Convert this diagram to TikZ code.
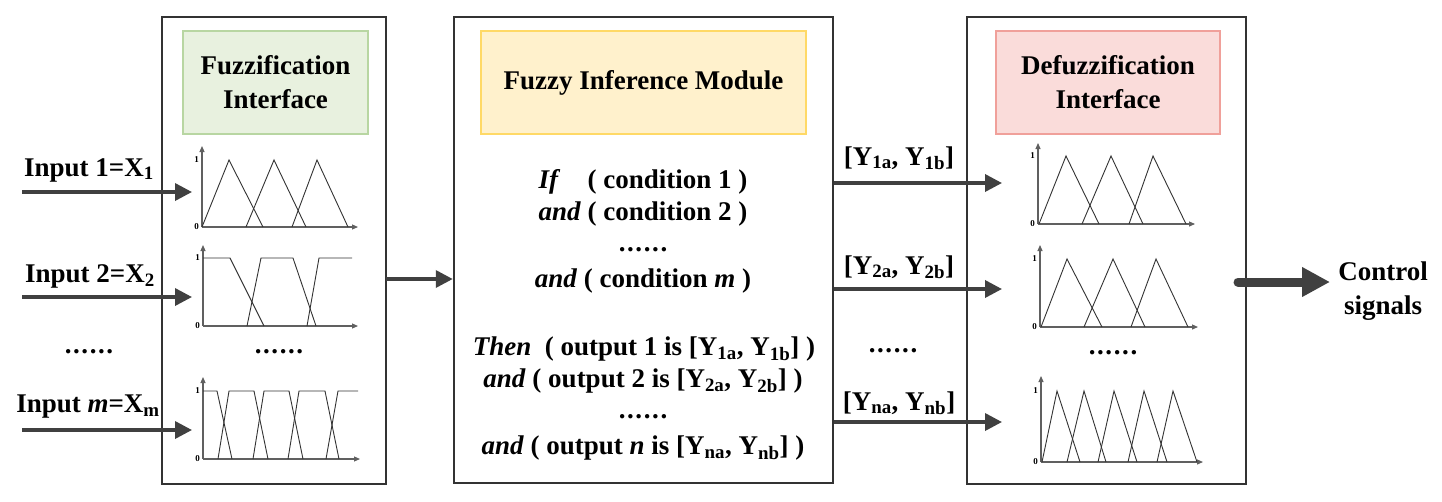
\documentclass[tikz,border=0pt]{standalone}
\usepackage{fontspec}
\setmainfont{Liberation Serif}
\usetikzlibrary{arrows.meta}
\definecolor{boxline}{HTML}{333333}
\definecolor{arrgray}{HTML}{404040}
\definecolor{axgray}{HTML}{606060}
\definecolor{mfline}{HTML}{333333}
\definecolor{gfill}{HTML}{E8F1DF}
\definecolor{gline}{HTML}{B8D6A2}
\definecolor{yfill}{HTML}{FFF1CC}
\definecolor{yline}{HTML}{FFD966}
\definecolor{pfill}{HTML}{FADCDA}
\definecolor{pline}{HTML}{F0A09A}
\newcommand\mfaxes[5]{%
  \draw[axisline] (#1,#2) -- (#1,#3);
  \draw[axisline] (#1,#2) -- (#4,#2);
  \node[ticklab,anchor=east] at (#1-2,#5) {1};
  \node[ticklab,anchor=east] at (#1-2,#2) {0};
}
\newcommand\sixdots{.\kern1.6pt.\kern1.6pt.\kern1.6pt.\kern1.6pt.\kern1.6pt.}
\begin{document}
\begin{tikzpicture}[x=1pt,y=-1pt,
  big/.style={font=\fontsize{27}{34}\selectfont\bfseries, inner sep=0pt, align=center},
  ticklab/.style={font=\fontsize{9}{10}\selectfont\bfseries, inner sep=1pt},
  modbox/.style={draw=boxline, line width=2.5pt, fill=white, inner sep=0pt},
  titlebox/.style={line width=1.6pt, inner sep=0pt},
  axisline/.style={draw=axgray, line width=1.1pt, -{Triangle[length=6pt,width=5pt]}},
  mf/.style={draw=mfline, line width=0.9pt},
  arr/.style={draw=arrgray, line width=3.5pt, -{Triangle[length=17pt,width=17pt]}},
  thickarr/.style={draw=arrgray, line width=9pt, line cap=round, -{Triangle[length=28pt,width=28pt]}}
]
\useasboundingbox (0,0) rectangle (1442,501);

% module boxes
\node[modbox, minimum width=224pt, minimum height=467pt] (left) at (274,250.5) {};
\node[modbox, minimum width=379pt, minimum height=466pt] (mid) at (643.5,250) {};
\node[modbox, minimum width=279pt, minimum height=467pt] (right) at (1106.5,250.5) {};

% title boxes
\node[titlebox, draw=gline, fill=gfill, minimum width=185pt, minimum height=103pt] (gbox) at (275.5,82.5) {};
\node[big] (gtext) at (gbox) {Fuzzification\\Interface};
\node[titlebox, draw=yline, fill=yfill, minimum width=325pt, minimum height=103pt] (ybox) at (643.5,82.5) {};
\node[big] (ytext) at (ybox) {Fuzzy Inference Module};
\node[titlebox, draw=pline, fill=pfill, minimum width=224pt, minimum height=103pt] (pbox) at (1108,82.5) {};
\node[big] (ptext) at (pbox) {Defuzzification\\Interface};

% left charts
\mfaxes{202}{227}{146}{358}{160}
\draw[mf] (202,227) -- (229,160) -- (263,227);
\draw[mf] (246,227) -- (274,160) -- (306,227);
\draw[mf] (292,227) -- (317,160) -- (348,227);

\mfaxes{203}{326}{245}{358}{258}
\draw[mf] (203,258) -- (230,258) -- (264,326);
\draw[mf] (247,326) -- (261,258) -- (293,258) -- (316,326);
\draw[mf] (307,326) -- (319,258) -- (352,258);

\node[big] (ldots) at (279,352) {\sixdots};

\mfaxes{203}{459}{377}{360}{391}
\draw[mf] (203,391) -- (217,391) -- (232,459);
\draw[mf] (218,459) -- (229,391) -- (254,391) -- (268,459);
\draw[mf] (253,459) -- (264,391) -- (289,391) -- (303,459);
\draw[mf] (288,459) -- (299,391) -- (325,391) -- (339,459);
\draw[mf] (326,459) -- (338,391) -- (358,391);

% right charts
\mfaxes{1038}{224}{143}{1195}{156}
\draw[mf] (1039,224) -- (1066,156) -- (1099,224);
\draw[mf] (1082,224) -- (1111,156) -- (1143,224);
\draw[mf] (1129,224) -- (1153,156) -- (1186,224);

\mfaxes{1040}{327}{245}{1198}{259}
\draw[mf] (1041,327) -- (1067,259) -- (1102,327);
\draw[mf] (1084,327) -- (1113,259) -- (1145,327);
\draw[mf] (1131,327) -- (1156,259) -- (1188,327);

\node[big] (rdots) at (1113,353) {\sixdots};

\mfaxes{1041}{462}{376}{1203}{391}
\draw[mf] (1042,462) -- (1057,391) -- (1080,462);
\draw[mf] (1067,462) -- (1084,391) -- (1106,462);
\draw[mf] (1098,462) -- (1114,391) -- (1137,462);
\draw[mf] (1128,462) -- (1144,391) -- (1167,462);
\draw[mf] (1157,462) -- (1173,391) -- (1197,462);

% inputs
\node[big] (in1) at (89,170) {Input 1=X\textsubscript{1}};
\node[big] (in2) at (90,276) {Input 2=X\textsubscript{2}};
\node[big] (indots) at (89,352) {\sixdots};
\node[big] (inm) at (88,407) {Input \textit{m}=X\textsubscript{m}};
\coordinate (a1s) at (22,192); \coordinate (a1e) at (192,192);
\coordinate (a2s) at (22,297); \coordinate (a2e) at (192,297);
\coordinate (ams) at (22,430); \coordinate (ame) at (192,430);
\draw[arr] (a1s) -- (a1e);
\draw[arr] (a2s) -- (a2e);
\draw[arr] (ams) -- (ame);

% left -> mid
\coordinate (lm) at (386,279);
\draw[arr] (lm) -- (mid.west |- lm);

% rules
\node[big] (r1) at (643,182) {\rlap{\textit{If}}\hphantom{\textit{and}} ( condition 1 )};
\node[big] (r2) at (643,214) {\textit{and} ( condition 2 )};
\node[big] (r3) at (643,250) {\sixdots};
\node[big] (r4) at (643,281) {\textit{and} ( condition \textit{m} )};
\node[big] (r5) at (644,349) {\textit{Then}\enspace( output 1 is [Y\textsubscript{1a}, Y\textsubscript{1b}] )};
\node[big] (r6) at (643,381) {\textit{and} ( output 2 is [Y\textsubscript{2a}, Y\textsubscript{2b}] )};
\node[big] (r7) at (643,417) {\sixdots};
\node[big] (r8) at (643,448) {\textit{and} ( output \textit{n} is [Y\textsubscript{na}, Y\textsubscript{nb}] )};

% outputs
\node[big] (y1) at (899,158) {[Y\textsubscript{1a}, Y\textsubscript{1b}]};
\node[big] (y2) at (899,267) {[Y\textsubscript{2a}, Y\textsubscript{2b}]};
\node[big] (ydots) at (893,351) {\sixdots};
\node[big] (yn) at (899,403) {[Y\textsubscript{na}, Y\textsubscript{nb}]};
\coordinate (o1) at (1002,183);
\coordinate (o2) at (1002,289);
\coordinate (on) at (1002,422);
\draw[arr] (mid.east |- o1) -- (o1);
\draw[arr] (mid.east |- o2) -- (o2);
\draw[arr] (mid.east |- on) -- (on);

% control signals
\coordinate (cs) at (1238,282);
\coordinate (ce) at (1330,282);
\draw[thickarr] (cs) -- (ce);
\node[big] (ctrl) at (1383,291) {Control\\signals};
\end{tikzpicture}
\end{document}
